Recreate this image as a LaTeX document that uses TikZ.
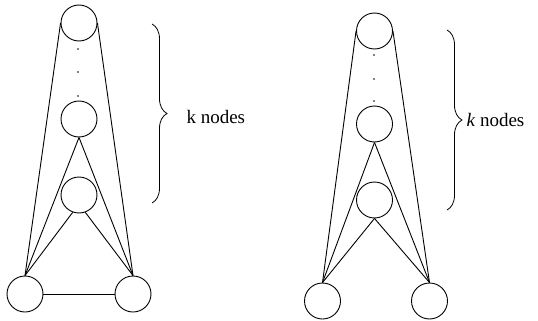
\documentclass[tikz,border=0pt]{standalone}
\usepackage{fontspec}
\setmainfont{Liberation Serif}
\usetikzlibrary{decorations.pathreplacing}
\begin{document}
\begin{tikzpicture}[x=1pt,y=-1pt,
  vnode/.style={circle,draw,line width=0.9pt,minimum size=36pt,inner sep=0pt},
  edge/.style={line width=0.9pt},
  dotmark/.style={circle,fill,inner sep=0pt,minimum size=1.8pt},
  bracestyle/.style={line width=0.8pt,decorate,decoration={brace,amplitude=15pt,aspect=0.5}},
  lbl/.style={font=\fontsize{19}{22}\selectfont,anchor=west}]
\useasboundingbox (0,0) rectangle (538,321);
% left diagram
\node[vnode] (a1) at (79,23) {};
\node[vnode] (a2) at (79,119) {};
\node[vnode] (a3) at (79,195) {};
\node[vnode] (al) at (25,294) {};
\node[vnode] (ar) at (133,294) {};
\node[dotmark] (ad1) at (78,49) {};
\node[dotmark] (ad2) at (78,72) {};
\node[dotmark] (ad3) at (78,96) {};
\draw[edge] (al.north) -- (a1.west);
\draw[edge] (ar.north) -- (a1.east);
\draw[edge] (al.north) -- (a2.south);
\draw[edge] (ar.north) -- (a2.south);
\draw[edge] (al.north) -- (a3.-110);
\draw[edge] (ar.north) -- (a3.-70);
\draw[edge] (al.east) -- (ar.west);
\coordinate (ab1) at (152,203);
\coordinate (ab2) at (152,24);
\draw[bracestyle] (ab2) -- (ab1);
\node[lbl] (at) at (183,117) {k nodes};
% right diagram
\node[vnode] (b1) at (374.5,31) {};
\node[vnode] (b2) at (374.5,124) {};
\node[vnode] (b3) at (374.5,200) {};
\node[vnode] (bl) at (322.5,301) {};
\node[vnode] (br) at (429.5,301) {};
\node[dotmark] (bd1) at (374,55) {};
\node[dotmark] (bd2) at (374,79) {};
\node[dotmark] (bd3) at (374,101) {};
\draw[edge] (bl.north) -- (b1.west);
\draw[edge] (br.north) -- (b1.east);
\draw[edge] (bl.north) -- (b2.south);
\draw[edge] (br.north) -- (b2.south);
\draw[edge] (bl.north) -- (b3.south);
\draw[edge] (br.north) -- (b3.south);
\coordinate (bb1) at (447,210);
\coordinate (bb2) at (447,30);
\draw[bracestyle] (bb2) -- (bb1);
\node[lbl] (bt) at (463,120) {\textit{k} nodes};
\end{tikzpicture}
\end{document}
